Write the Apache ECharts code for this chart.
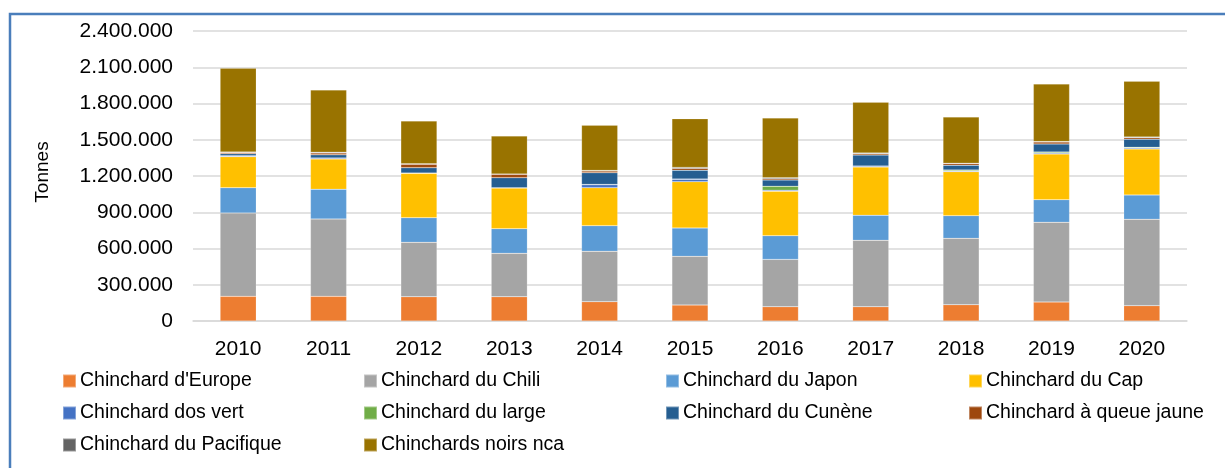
<!DOCTYPE html>
<html>
<head>
<meta charset="utf-8">
<script src="https://cdn.jsdelivr.net/npm/echarts@6/dist/echarts.min.js"></script>
<style>
  html, body { margin: 0; padding: 0; background: #fff; }
  #chart { width: 1225px; height: 468px; }
</style>
</head>
<body>
<div id="chart"></div>
<script>
// Catches by species, in tonnes
const years = ['2010', '2011', '2012', '2013', '2014', '2015', '2016', '2017', '2018', '2019', '2020'];
const europe     = [204000, 204000, 201000, 201000, 160000, 132000, 118000, 118000, 135000, 157000, 127000];
const chili      = [690000, 640000, 450000, 359000, 417000, 403000, 392000, 550000, 549000, 660000, 715000];
const japon      = [209000, 246000, 204000, 204000, 212000, 235000, 196000, 207000, 188000, 187000, 201000];
const cap        = [257000, 251000, 367000, 337000, 314000, 383000, 368000, 399000, 364000, 378000, 381000];
const dosVert    = [6000, 8000, 2000, 2000, 25000, 20000, 8000, 8000, 6000, 8000, 8000];
const large      = [1000, 1000, 0, 0, 2000, 2000, 33000, 1000, 8000, 9000, 6000];
const cunene     = [17000, 25000, 44000, 83000, 97000, 72000, 52000, 90000, 39000, 66000, 66000];
const queueJaune = [10000, 16000, 30000, 28000, 14000, 16000, 11000, 12000, 14000, 17000, 12000];
const pacifique  = [5000, 6000, 3000, 2000, 5000, 8000, 8000, 6000, 3000, 3000, 7000];
const noirs      = [692000, 515000, 354000, 315000, 374000, 403000, 494000, 419000, 382000, 476000, 461000];

const yTicks = { min: 0, max: 2400000, interval: 300000 };

const seriesDefs = [
  { name: "Chinchard d'Europe",      data: europe,     color: '#ED7D31' },
  { name: 'Chinchard du Chili',      data: chili,      color: '#A5A5A5' },
  { name: 'Chinchard du Japon',      data: japon,      color: '#5B9BD5' },
  { name: 'Chinchard du Cap',        data: cap,        color: '#FFC000' },
  { name: 'Chinchard dos vert',      data: dosVert,    color: '#4472C4' },
  { name: 'Chinchard du large',      data: large,      color: '#70AD47' },
  { name: 'Chinchard du Cunène',     data: cunene,     color: '#255E91' },
  { name: 'Chinchard à queue jaune', data: queueJaune, color: '#9E480E' },
  { name: 'Chinchard du Pacifique',  data: pacifique,  color: '#636363' },
  { name: 'Chinchards noirs nca',    data: noirs,      color: '#997300' }
];

const FONT = "'Liberation Sans', Arial, sans-serif";
const fmt = v => String(v).replace(/\B(?=(\d{3})+(?!\d))/g, '.');

// Legend laid out in four columns
const legendCols = [
  { left: 57,  names: ["Chinchard d'Europe", 'Chinchard dos vert', 'Chinchard du Pacifique'] },
  { left: 358, names: ['Chinchard du Chili', 'Chinchard du large', 'Chinchards noirs nca'] },
  { left: 660, names: ['Chinchard du Japon', 'Chinchard du Cunène'] },
  { left: 963, names: ['Chinchard du Cap', 'Chinchard à queue jaune'] }
];

const chart = echarts.init(document.getElementById('chart'), null, { renderer: 'canvas' });

chart.setOption({
  backgroundColor: '#fff',
  animation: false,
  textStyle: { fontFamily: FONT, color: '#000' },
  graphic: [{
    type: 'rect',
    shape: { x: 10, y: 14, width: 1300, height: 500 },
    style: { fill: 'none', stroke: '#4A7EBB', lineWidth: 2.5 },
    silent: true
  }],
  grid: { left: 193, right: 38, top: 31, bottom: 147, containLabel: false },
  legend: legendCols.map(c => ({
    orient: 'vertical',
    left: c.left,
    top: 366,
    itemWidth: 13,
    itemHeight: 13,
    itemGap: 12,
    icon: 'rect',
    selectedMode: false,
    data: c.names,
    textStyle: { fontFamily: FONT, fontSize: 19.5, lineHeight: 20, color: '#000', padding: [0, 0, 0, -1] }
  })),
  xAxis: {
    type: 'category',
    data: years,
    axisLine: { show: true, lineStyle: { color: '#D9D9D9', width: 1.5 } },
    axisTick: { show: false },
    axisLabel: { fontFamily: FONT, fontSize: 21, color: '#000', margin: 18 }
  },
  yAxis: {
    type: 'value',
    min: yTicks.min,
    max: yTicks.max,
    interval: yTicks.interval,
    name: 'Tonnes',
    nameLocation: 'middle',
    nameRotate: 90,
    nameGap: 141,
    nameTextStyle: { fontFamily: FONT, fontSize: 19, color: '#000', padding: [0, 0, 0, 8] },
    axisLine: { show: false },
    axisTick: { show: false },
    splitLine: { lineStyle: { color: '#D9D9D9', width: 1.5 } },
    axisLabel: { fontFamily: FONT, fontSize: 21, color: '#000', margin: 20, formatter: fmt }
  },
  series: seriesDefs.map(s => ({
    name: s.name,
    type: 'bar',
    stack: 'total',
    barWidth: '40%',
    data: s.data,
    itemStyle: { color: s.color, borderColor: 'rgba(255,255,255,0.35)', borderWidth: 0.5 },
    emphasis: { disabled: true }
  }))
});
</script>
</body>
</html>
